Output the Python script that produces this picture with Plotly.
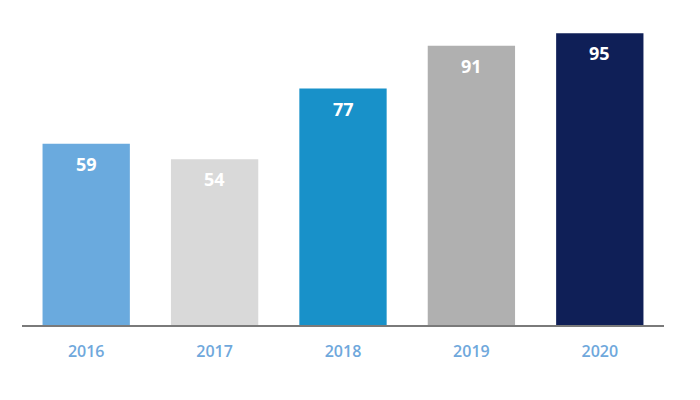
import plotly.graph_objects as go

years = ["2016", "2017", "2018", "2019", "2020"]
values = [59, 54, 77, 91, 95]
colors = ["#6aaade", "#d9d9d9", "#1891c9", "#b0b0b0", "#0f1f57"]

fig = go.Figure(go.Bar(
    x=years, y=values, marker=dict(color=colors, line=dict(width=0)),
    width=0.68, hoverinfo="skip"
))

for i, v in enumerate(values):
    fig.add_annotation(x=i, y=v, text=f"<b>{v}</b>", showarrow=False,
                       yanchor="top", yshift=-6,
                       font=dict(family="Open Sans", size=18, color="white"))

fig.update_layout(
    width=700, height=400,
    margin=dict(l=14, r=44, t=10, b=83),
    paper_bgcolor="white", plot_bgcolor="white",
    showlegend=False,
)
fig.update_xaxes(type="category", range=[-0.5, len(years) - 0.5],
                 showline=True, linecolor="#7a7a7a", linewidth=2,
                 showgrid=False, ticks="", ticklabelstandoff=11,
                 tickfont=dict(family="Open Sans", size=16, color="#6fa8dc", weight=600))
fig.update_yaxes(range=[0, 100], visible=False, showgrid=False, zeroline=False)

fig.write_html("out.html")
